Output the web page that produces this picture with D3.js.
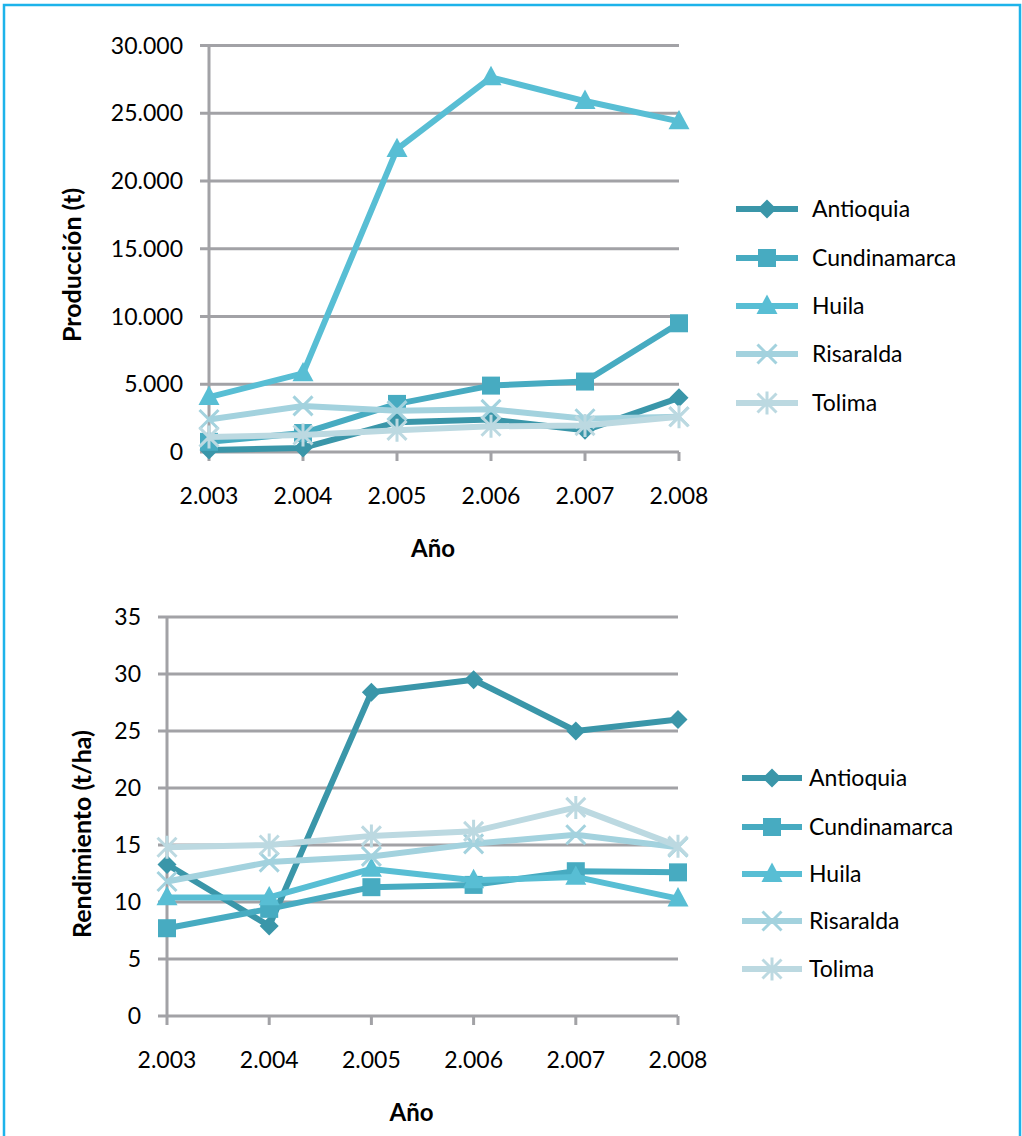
<!DOCTYPE html>
<html>
<head>
<meta charset="utf-8">
<script src="https://cdn.jsdelivr.net/npm/d3@7"></script>
<style>
  html, body { margin: 0; padding: 0; background: #fff; }
  svg { display: block; }
  text { font-family: Lato, "Open Sans", sans-serif; fill: #000; }
</style>
</head>
<body>
<svg id="chart" width="1022" height="1136"></svg>
<script>
// Años y departamentos
const years = [2003, 2004, 2005, 2006, 2007, 2008];
const departments = ["Antioquia", "Cundinamarca", "Huila", "Risaralda", "Tolima"];

// Producción (t)
const prodAntioquia    = [150, 300, 2200, 2400, 1600, 4000];
const prodCundinamarca = [750, 1400, 3550, 4900, 5200, 9500];
const prodHuila        = [4050, 5800, 22350, 27650, 25900, 24400];
const prodRisaralda    = [2400, 3400, 3050, 3150, 2450, 2600];
const prodTolima       = [1100, 1250, 1600, 1900, 1950, 2600];

// Rendimiento (t/ha)
const rendAntioquia    = [13.3, 7.9, 28.4, 29.5, 25.0, 26.0];
const rendCundinamarca = [7.7, 9.4, 11.3, 11.5, 12.7, 12.6];
const rendHuila        = [10.4, 10.4, 12.9, 11.9, 12.2, 10.3];
const rendRisaralda    = [11.8, 13.5, 14.0, 15.1, 15.9, 14.8];
const rendTolima       = [14.8, 15.0, 15.8, 16.2, 18.3, 14.9];

const prodTicks = [0, 5000, 10000, 15000, 20000, 25000, 30000];
const rendTicks = [0, 5, 10, 15, 20, 25, 30, 35];

const colors = {
  Antioquia: "#3a96a9",
  Cundinamarca: "#47abc1",
  Huila: "#58bed4",
  Risaralda: "#a3d2de",
  Tolima: "#bcd9e1"
};
const symbols = {
  Antioquia: "diamond",
  Cundinamarca: "square",
  Huila: "triangle",
  Risaralda: "x",
  Tolima: "asterisk"
};

const fmt = d3.formatLocale({ decimal: ",", thousands: ".", grouping: [3], currency: ["", ""] }).format(",");

const svg = d3.select("#chart");

// marco exterior
svg.append("path")
  .attr("d", "M4,1136 V5 H1020 V1136")
  .attr("fill", "none")
  .attr("stroke", "#1db3ea")
  .attr("stroke-width", 2.5);

const GRID = "#a2a2a6";
const FS = 23;

function drawMarker(g, kind, x, y, color) {
  if (kind === "diamond") {
    const r = 9.5;
    g.append("path").attr("d", `M${x},${y - r}L${x + r},${y}L${x},${y + r}L${x - r},${y}Z`).attr("fill", color);
  } else if (kind === "square") {
    const s = 9;
    g.append("rect").attr("x", x - s).attr("y", y - s).attr("width", 2 * s).attr("height", 2 * s).attr("fill", color);
  } else if (kind === "triangle") {
    const h = 10.5;
    g.append("path").attr("d", `M${x},${y - h - 1}L${x + h},${y + h * 0.75}L${x - h},${y + h * 0.75}Z`).attr("fill", color);
  } else if (kind === "x") {
    const r = 9.5;
    g.append("path").attr("d", `M${x - r},${y - r}L${x + r},${y + r}M${x - r},${y + r}L${x + r},${y - r}`)
      .attr("stroke", color).attr("stroke-width", 3).attr("fill", "none");
  } else if (kind === "asterisk") {
    const r = 9.5;
    g.append("path").attr("d", `M${x - r},${y - r}L${x + r},${y + r}M${x - r},${y + r}L${x + r},${y - r}M${x},${y - r - 2}L${x},${y + r + 2}`)
      .attr("stroke", color).attr("stroke-width", 3).attr("fill", "none");
  }
}

function drawChart(cfg) {
  const g = svg.append("g");
  const x = d3.scalePoint().domain(years).range([cfg.left, cfg.right]);
  const y = d3.scaleLinear().domain([0, cfg.max]).range([cfg.bottom, cfg.top]);

  // líneas de cuadrícula horizontales
  g.append("g").selectAll("line").data(cfg.ticks).join("line")
    .attr("x1", cfg.left - 9).attr("x2", cfg.right)
    .attr("y1", d => y(d)).attr("y2", d => y(d))
    .attr("stroke", GRID).attr("stroke-width", 3);

  // eje vertical
  g.append("line")
    .attr("x1", cfg.left).attr("x2", cfg.left)
    .attr("y1", y(cfg.max)).attr("y2", cfg.bottom + 9)
    .attr("stroke", GRID).attr("stroke-width", 3);

  // marcas del eje horizontal
  g.append("g").selectAll("line").data(years.slice(1)).join("line")
    .attr("x1", d => x(d)).attr("x2", d => x(d))
    .attr("y1", cfg.bottom).attr("y2", cfg.bottom + 9)
    .attr("stroke", GRID).attr("stroke-width", 3);

  // etiquetas del eje Y
  g.append("g").selectAll("text").data(cfg.ticks).join("text")
    .attr("x", cfg.left - 26).attr("y", d => y(d))
    .attr("dy", "0.35em").attr("text-anchor", "end")
    .attr("font-size", FS)
    .text(d => fmt(d));

  // etiquetas del eje X
  g.append("g").selectAll("text").data(years).join("text")
    .attr("x", d => x(d)).attr("y", cfg.bottom + 44)
    .attr("dy", "0.35em").attr("text-anchor", "middle")
    .attr("font-size", FS)
    .text(d => fmt(d));

  // títulos de ejes
  g.append("text")
    .attr("x", (cfg.left + cfg.right) / 2 - 11).attr("y", cfg.bottom + 97)
    .attr("dy", "0.35em").attr("text-anchor", "middle")
    .attr("font-size", 24).attr("font-weight", "bold")
    .text("Año");
  g.append("text")
    .attr("transform", `translate(${cfg.ytitleX},${cfg.ytitleY}) rotate(-90)`)
    .attr("dy", "0.35em").attr("text-anchor", "middle")
    .attr("font-size", 25).attr("font-weight", "bold")
    .text(cfg.ytitle);

  const line = d3.line().x((d, i) => x(years[i])).y(d => y(d));

  departments.forEach(dep => {
    const vals = cfg.series[dep];
    const c = colors[dep];
    g.append("path").datum(vals)
      .attr("d", line)
      .attr("fill", "none").attr("stroke", c)
      .attr("stroke-width", 6).attr("stroke-linejoin", "round");
    vals.forEach((v, i) => drawMarker(g, symbols[dep], x(years[i]), y(v), c));
  });

  // leyenda
  departments.forEach((dep, i) => {
    const ly = cfg.legendY[i];
    const c = colors[dep];
    g.append("line")
      .attr("x1", cfg.legendX).attr("x2", cfg.legendX + cfg.legendLen)
      .attr("y1", ly).attr("y2", ly)
      .attr("stroke", c).attr("stroke-width", 6);
    drawMarker(g, symbols[dep], cfg.legendX + cfg.legendLen / 2, ly, c);
    g.append("text")
      .attr("x", cfg.legendTextX).attr("y", ly)
      .attr("dy", "0.35em").attr("font-size", FS)
      .text(dep);
  });
}

drawChart({
  left: 209, right: 679, top: 45.5, bottom: 452, max: 30000,
  ticks: prodTicks,
  ytitle: "Producción (t)", ytitleX: 72, ytitleY: 265,
  series: {
    Antioquia: prodAntioquia, Cundinamarca: prodCundinamarca, Huila: prodHuila,
    Risaralda: prodRisaralda, Tolima: prodTolima
  },
  legendX: 736, legendLen: 62, legendTextX: 812, legendY: [209, 258, 306, 354, 403]
});

drawChart({
  left: 167, right: 678, top: 617, bottom: 1016, max: 35,
  ticks: rendTicks,
  ytitle: "Rendimiento (t/ha)", ytitleX: 82, ytitleY: 834,
  series: {
    Antioquia: rendAntioquia, Cundinamarca: rendCundinamarca, Huila: rendHuila,
    Risaralda: rendRisaralda, Tolima: rendTolima
  },
  legendX: 742, legendLen: 60, legendTextX: 809, legendY: [778, 827, 874, 921, 969]
});
</script>
</body>
</html>
